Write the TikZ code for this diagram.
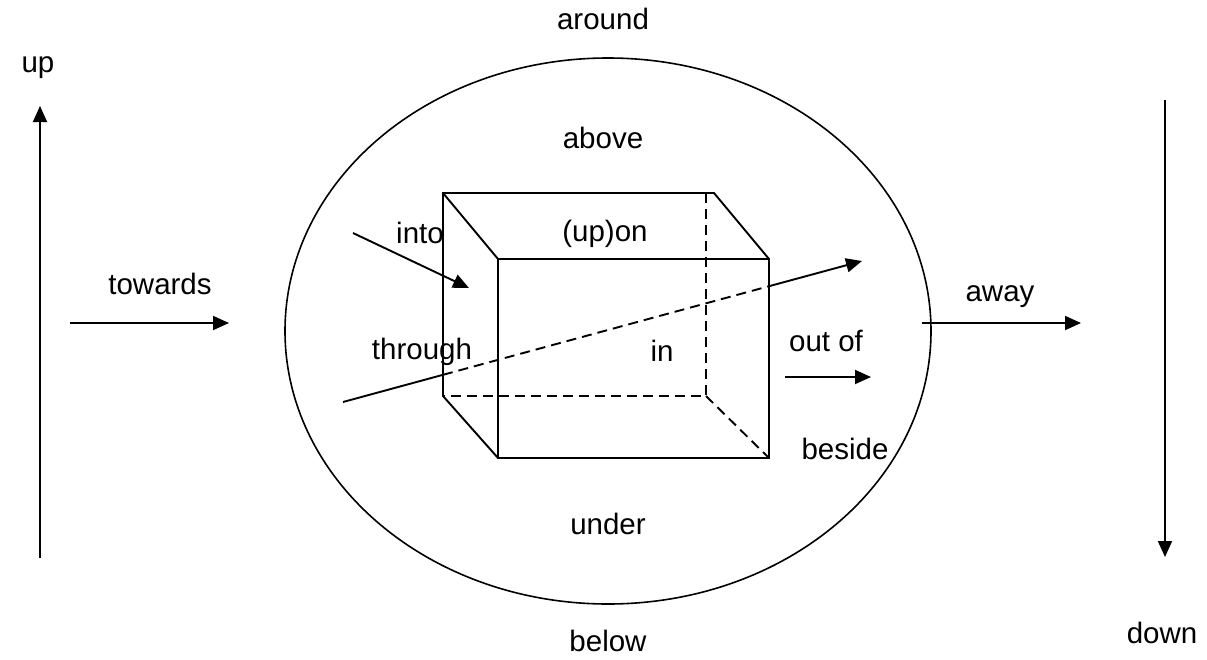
\documentclass[tikz,border=0pt]{standalone}
\usepackage{fontspec}
\setmainfont{Liberation Sans}
\usetikzlibrary{arrows.meta,shapes.geometric}
\begin{document}
\begin{tikzpicture}[x=1pt,y=-1pt,
  lbl/.style={inner sep=0pt, anchor=base, font=\fontsize{29.5}{34}\selectfont},
  edge/.style={line width=1.9pt},
  hid/.style={line width=1.9pt, dash pattern=on 10pt off 6pt},
  arr/.style={line width=1.9pt, -{Triangle[length=16pt,width=14pt]}}]
\useasboundingbox (0,0) rectangle (1207,659);
% labels
\node[lbl] (up) at (38,72) {up};
\node[lbl] (around) at (603,29) {around};
\node[lbl] (above) at (603,148) {above};
\node[lbl] (towards) at (160,294) {towards};
\node[lbl] (into) at (420,243) {into};
\node[lbl] (upon) at (605,241) {(up)on};
\node[lbl] (away) at (1000,301) {away};
\node[lbl] (through) at (422,359) {through};
\node[lbl] (in) at (662,361) {in};
\node[lbl] (outof) at (826,351) {out of};
\node[lbl] (beside) at (845,459) {beside};
\node[lbl] (under) at (608,534) {under};
\node[lbl] (below) at (608,651) {below};
\node[lbl] (down) at (1162,643) {down};
% ellipse
\node[draw, line width=1.6pt, ellipse, minimum width=646pt, minimum height=546pt, inner sep=0pt] (ell) at (608,331) {};
% box corners
\coordinate (btl) at (443,193);
\coordinate (btr) at (714,193);
\coordinate (bbl) at (443,396);
\coordinate (bdt) at (706,193);
\coordinate (bbr) at (706,396);
\coordinate (ftl) at (498,259);
\coordinate (ftr) at (769,259);
\coordinate (fbl) at (498,458);
\coordinate (fbr) at (769,458);
\draw[edge] (bbl) -- (btl) -- (btr) -- (ftr) -- (fbr) -- (fbl) -- cycle;
\draw[edge] (btl) -- (ftl) -- (ftr);
\draw[edge] (ftl) -- (fbl);
\draw[hid] (bdt) -- (bbr) -- (bbl);
\draw[hid] (bbr) -- (fbr);
% through line
\coordinate (t0) at (343,402);
\coordinate (t1) at (443,374.8);
\coordinate (t2) at (769,286.2);
\coordinate (t3) at (862,261);
\draw[edge] (t0) -- (t1);
\draw[hid] (t1) -- (t2);
\draw[arr] (t2) -- (t3);
% into arrow
\coordinate (i0) at (353,233);
\coordinate (i1) at (469,288);
\draw[arr] (i0) -- (i1);
% out of
\coordinate (o0) at (785,377);
\coordinate (o1) at (871,377);
\draw[arr] (o0) -- (o1);
% towards
\coordinate (tw0) at (70,323);
\coordinate (tw1) at (229,323);
\draw[arr] (tw0) -- (tw1);
% away
\coordinate (aw0) at (922,323);
\coordinate (aw1) at (1081,323);
\draw[arr] (aw0) -- (aw1);
% up / down
\coordinate (u0) at (40,558);
\coordinate (u1) at (40,106);
\draw[arr] (u0) -- (u1);
\coordinate (d0) at (1165,100);
\coordinate (d1) at (1165,557);
\draw[arr] (d0) -- (d1);
\end{tikzpicture}
\end{document}
